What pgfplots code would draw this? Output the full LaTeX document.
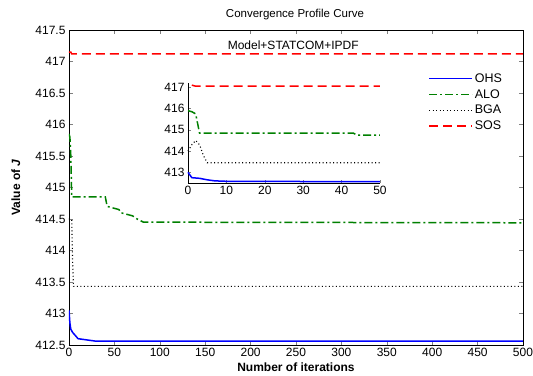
\documentclass[border=0pt]{standalone}
\usepackage{pgfplots}
\pgfplotsset{compat=1.18}
\usepackage{fontspec}
\setmainfont{Liberation Sans}
\definecolor{mblue}{rgb}{0,0,1}
\definecolor{mgreen}{rgb}{0,0.5,0}
\definecolor{mred}{rgb}{1,0,0}
\begin{document}
\begin{tikzpicture}
\begin{axis}[
  name=main,
  scale only axis,
  width=454pt, height=315pt,
  xmin=0, xmax=500, ymin=412.5, ymax=417.5,
  xtick={0,50,...,500},
  ytick={412.5,413,...,417.5},
  tick align=inside,
  major tick length=4pt,
  /pgf/number format/assume math mode=true,
  /pgf/number format/fixed,
  /pgf/number format/precision=1,
  yticklabel style={/pgf/number format/1000 sep=},
  ticklabel style={font=\fontsize{12}{13}\selectfont},
  xlabel={\textbf{Number of iterations}},
  ylabel={\textbf{Value of \textit{J}}},
  xlabel style={font=\fontsize{12}{13}\selectfont, at={(axis description cs:0.5,-0.072)}, anchor=center},
  ylabel style={font=\fontsize{12}{13}\selectfont, at={(axis description cs:-0.117,0.5)}, anchor=center},
  legend style={draw=none, fill=none, at={(0.965,0.875)}, anchor=north east,
     font=\fontsize{12.5}{13}\selectfont, row sep=1.5pt},
  legend cell align=left,
  legend image code/.code={\draw[#1] (0pt,0pt) -- (43pt,0pt);},
  every axis plot/.append style={line width=1.5pt},
]
\addplot[mblue, solid] coordinates {(0,413.05) (1,412.85) (2,412.75) (4,412.7) (7,412.65) (10,412.6) (20,412.58) (30,412.56) (500,412.56)};
\addlegendentry{OHS}
\addplot[mgreen, dash pattern=on 8pt off 3pt on 2pt off 3pt] coordinates {(0,415.85) (1,415.8) (2,415.5) (3,414.85) (40,414.85) (42,414.7) (55,414.65) (57,414.6) (70,414.55) (75,414.5) (82,414.45) (500,414.44)};
\addlegendentry{ALO}
\addplot[black, line width=1.1pt, dash pattern=on 1pt off 2.5pt] coordinates {(0,414.5) (3,414.5) (4,413.8) (5,413.43) (500,413.43)};
\addlegendentry{BGA}
\addplot[mred, dash pattern=on 9pt off 5pt] coordinates {(0,417.15) (2,417.15) (3,417.12) (500,417.12)};
\addlegendentry{SOS}
\node[font=\fontsize{12}{13}\selectfont] at (axis cs:247,417.26) {Model+STATCOM+IPDF};
\end{axis}
\node[font=\fontsize{11.5}{12}\selectfont] at ([xshift=-1pt,yshift=15pt]main.north) {Convergence Profile Curve};
\begin{axis}[
  at={(main.south west)}, anchor=south west,
  xshift=119pt, yshift=162pt,
  scale only axis,
  width=192pt, height=100pt,
  xmin=0, xmax=50, ymin=412.5, ymax=417.2,
  xtick={0,10,...,50}, ytick={413,414,...,417},
  axis x line*=bottom, axis y line*=left,
  tick align=inside,
  major tick length=3pt,
  /pgf/number format/assume math mode=true,
  ticklabel style={font=\fontsize{12}{13}\selectfont},
  every axis plot/.append style={line width=1.5pt},
  clip=false,
]
\addplot[mblue, solid] coordinates {(0,413.0) (1,412.75) (3,412.72) (5,412.65) (7,412.6) (10,412.58) (30,412.57) (50,412.57)};
\addplot[mgreen, dash pattern=on 8pt off 3pt on 2pt off 3pt] coordinates {(0,415.9) (1,415.85) (2,415.75) (2.5,415.3) (3,414.85) (43,414.85) (44,414.75) (50,414.75)};
\addplot[black, line width=1.1pt, dash pattern=on 1pt off 2.5pt] coordinates {(0,414) (1,414.3) (2,414.5) (3,414.3) (4,413.8) (5,413.45) (50,413.45)};
\addplot[mred, dash pattern=on 9pt off 5pt] coordinates {(1,417.1) (2,417.05) (50,417.05)};
\end{axis}
\pgfresetboundingbox
\path[use as bounding box] ([shift={(-69pt,-30pt)}]main.south west) rectangle ([shift={(464pt,345pt)}]main.south west);
\end{tikzpicture}
\end{document}
